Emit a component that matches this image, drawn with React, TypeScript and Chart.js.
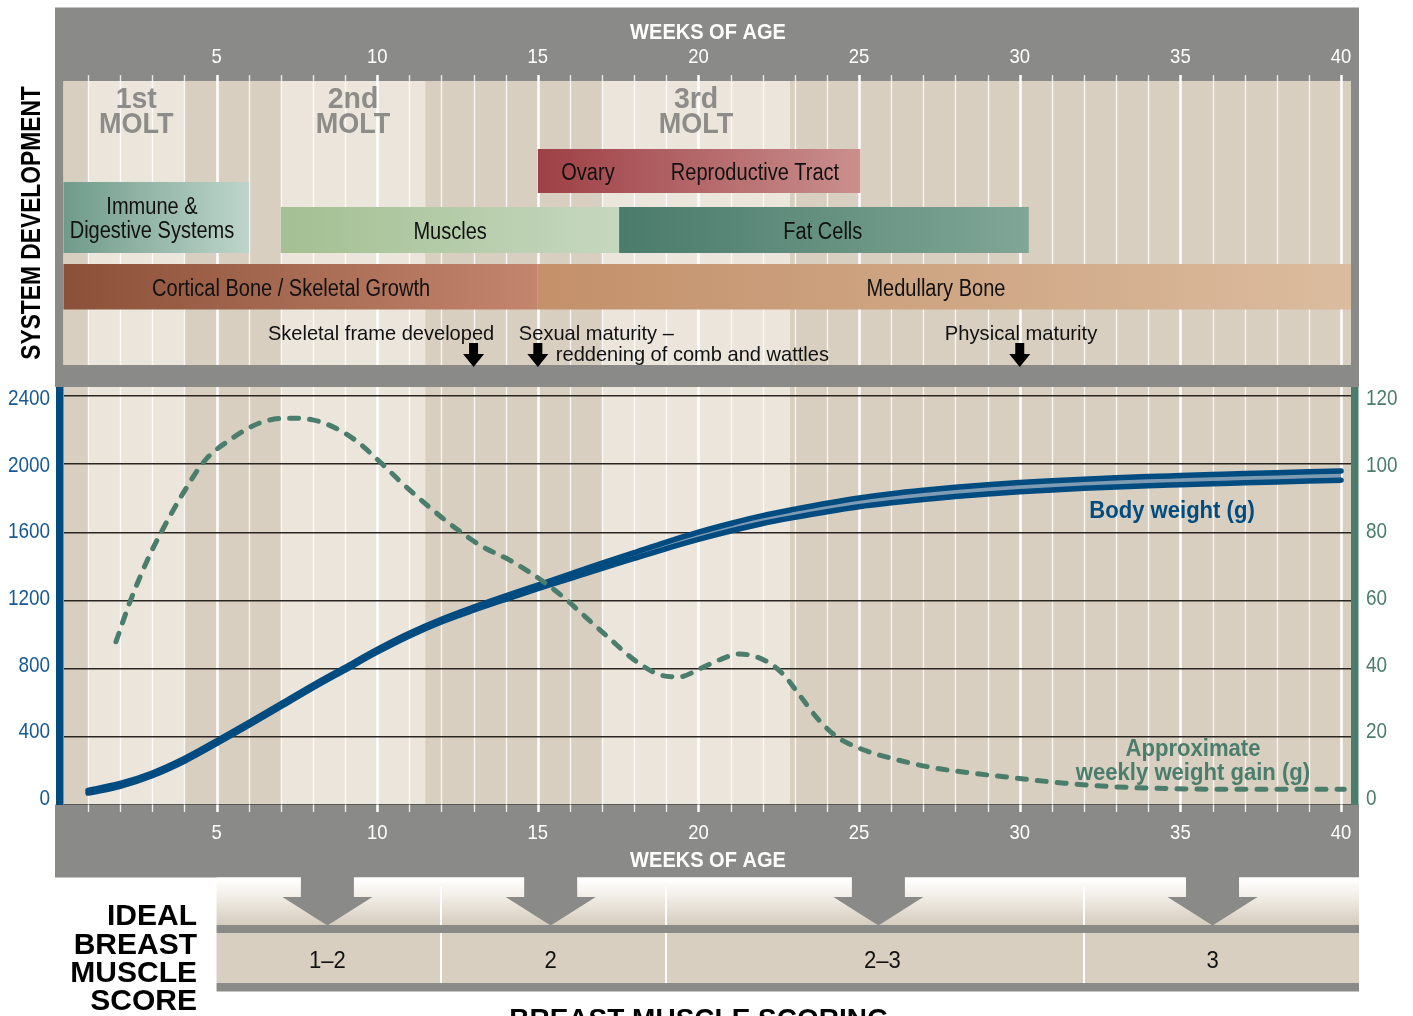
import React, { useEffect, useRef } from 'react';
import { Chart, registerables } from 'chart.js';

Chart.register(...registerables);

// ---------------- data ----------------
const WEEKS = [1, 2, 3, 4, 5, 6, 7, 8, 9, 10, 11, 12, 13, 14, 15, 16, 17, 18, 19, 20,
  21, 22, 23, 24, 25, 26, 27, 28, 29, 30, 31, 32, 33, 34, 35, 36, 37, 38, 39, 40];
const BODY_WEIGHT_HIGH = [86, 126, 188, 273, 376, 483, 593, 703, 808, 913, 1008, 1090, 1161, 1227, 1291, 1355, 1419, 1481, 1543, 1601,
  1652, 1698, 1736, 1771, 1802, 1827, 1847, 1864, 1879, 1892, 1903, 1912, 1920, 1927, 1933, 1939, 1945, 1950, 1955, 1960];
const BODY_WEIGHT_LOW = [70, 110, 172, 257, 360, 467, 577, 687, 792, 897, 992, 1074, 1143, 1207, 1269, 1329, 1389, 1447, 1505, 1559,
  1608, 1652, 1688, 1721, 1750, 1773, 1793, 1810, 1825, 1838, 1849, 1858, 1866, 1873, 1879, 1885, 1891, 1896, 1901, 1906];
const GAIN_WEEKS = [1.87, 2.29, 2.85, 3.26, 3.96, 4.65, 5.49, 6.32, 7.16, 7.99, 8.83, 9.38, 10.08, 10.78, 11.61, 12.44,
  13.28, 14.11, 14.95, 15.78, 16.48, 17.17, 18.01, 18.84, 19.4, 20.07, 20.63, 21.27, 22.05, 22.61, 23.18, 23.75, 24.31,
  25.02, 26.01, 27.15, 28.56, 29.98, 31.4, 32.81, 34.23, 37.06, 40.1];
const WEEKLY_GAIN = [47.9, 59.2, 71.9, 79.7, 91.5, 101.2, 107.6, 112.0, 113.5, 113.0, 110.0, 106.6, 100.7, 94.4, 87.5, 81.2,
  75.8, 71.9, 67.0, 61.1, 55.2, 49.4, 42.5, 38.1, 37.6, 40.1, 42.5, 44.3, 42.5, 38.6, 31.8, 24.9, 20.0,
  16.6, 13.7, 11.2, 9.3, 7.8, 6.4, 5.4, 4.9, 4.6, 4.6];
const WEEK_TICKS = [5, 10, 15, 20, 25, 30, 35, 40];
const BODY_WEIGHT_RANGE = [0, 2400];
const GAIN_RANGE = [0, 120];

const MOLT_LABELS = ['1st', '2nd', '3rd'];
const MOLT_START = [1, 7, 17];
const MOLT_END = [4, 11.5, 22.85];

const SYSTEM_LABELS = [['Ovary', 'Reproductive Tract'], ['Immune &', 'Digestive Systems'], ['Muscles'], ['Fat Cells'],
  ['Cortical Bone / Skeletal Growth'], ['Medullary Bone']];
const SYSTEM_START = [15, 0, 7, 17.53, 0, 15];
const SYSTEM_END = [25.04, 6.01, 17.53, 30.28, 15, 41];

const MILESTONE_LABELS = [['Skeletal frame developed'], ['Sexual maturity –', 'reddening of comb and wattles'], ['Physical maturity']];
const MILESTONE_WEEKS = [13, 15, 30];

const SCORE_LABELS = ['1–2', '2', '2–3', '3'];
const SCORE_BOUNDS = [5, 12, 19, 32, 41];
const SCORE_ARROW_WEEKS = [8.45, 15.4, 25.6, 36];

// ---------------- styles ----------------
const X_MIN = 0.2365;
const X_MAX = 40.31;
const GRAY = '#8a8a88';
const LIGHT = '#ece5db';
const DARK = '#d8cfc0';
const BLUE = '#004b80';
const BLUE_TEXT = '#175a90';
const GREEN = '#4b7d6c';
const FAM = '"Liberation Sans", Arial, sans-serif';
const FRAME_L = 55;
const FRAME_R = 1359;

const BAR_STYLE = [
  { y0: 149, y1: 193, c0: '#9e4046', c1: '#ca8f8d', lx: [16.56, 21.76], stacked: false },
  { y0: 182, y1: 253, c0: '#6f9b8b', c1: '#bed5cb', lx: [2.99], stacked: true },
  { y0: 207, y1: 253, c0: '#a4bf92', c1: '#c5d8bf', lx: [12.27], stacked: false },
  { y0: 207, y1: 253, c0: '#4a7b6b', c1: '#80a696', lx: [23.87], stacked: false },
  { y0: 264, y1: 309.5, c0: '#8b5038', c1: '#c4856e', lx: [7.32], stacked: false },
  { y0: 264, y1: 309.5, c0: '#c3906a', c1: '#dbbc9e', lx: [27.39], stacked: false },
];

function txt(ctx: CanvasRenderingContext2D, s: string, x: number, y: number, size: number,
  opt: { weight?: string; color?: string; align?: CanvasTextAlign; squeeze?: number; rotate?: number } = {}) {
  ctx.save();
  ctx.font = `${opt.weight || 'normal'} ${size}px ${FAM}`;
  ctx.fillStyle = opt.color || '#111';
  ctx.textAlign = opt.align || 'center';
  ctx.textBaseline = 'middle';
  ctx.translate(x, y);
  if (opt.rotate) ctx.rotate(opt.rotate);
  ctx.scale(opt.squeeze || 1, 1);
  ctx.fillText(s, 0, 0);
  ctx.restore();
}

function downArrow(ctx: CanvasRenderingContext2D, cx: number, yTop: number, yHead: number, yTip: number,
  shaftW: number, headW: number, color: string) {
  ctx.save();
  ctx.fillStyle = color;
  ctx.beginPath();
  ctx.moveTo(cx - shaftW / 2, yTop);
  ctx.lineTo(cx + shaftW / 2, yTop);
  ctx.lineTo(cx + shaftW / 2, yHead);
  ctx.lineTo(cx + headW / 2, yHead);
  ctx.lineTo(cx, yTip);
  ctx.lineTo(cx - headW / 2, yHead);
  ctx.lineTo(cx - shaftW / 2, yHead);
  ctx.closePath();
  ctx.fill();
  ctx.restore();
}

const decorPlugin = {
  id: 'decor',
  beforeDraw(chart: any) {
    const { ctx, chartArea: ca } = chart;
    const xs = chart.scales.x;
    const X = (w: number) => xs.getPixelForValue(Math.max(X_MIN, Math.min(X_MAX, w)));
    ctx.save();
    ctx.fillStyle = GRAY;
    ctx.fillRect(FRAME_L, 7.5, FRAME_R - FRAME_L, 81 - 7.5);
    ctx.fillRect(FRAME_L, 81, ca.left - FRAME_L, 365 - 81);
    ctx.fillRect(ca.right, 81, FRAME_R - ca.right, 365 - 81);
    ctx.fillRect(FRAME_L, 365, FRAME_R - FRAME_L, 387 - 365);

    const sections = [[81, 365], [387, ca.bottom]];
    for (const [y0, y1] of sections) {
      ctx.fillStyle = DARK;
      ctx.fillRect(ca.left, y0, ca.right - ca.left, y1 - y0);
      ctx.fillStyle = LIGHT;
      for (let i = 0; i < MOLT_START.length; i++) {
        const a = X(MOLT_START[i]);
        const b = X(MOLT_END[i]);
        ctx.fillRect(a, y0, b - a, y1 - y0);
      }
    }
    for (const w of WEEKS) {
      const x = Math.round(X(w)) + 0.5;
      const major = w % 5 === 0;
      ctx.strokeStyle = major ? 'rgba(255,255,255,1)' : 'rgba(255,255,255,0.8)';
      ctx.lineWidth = major ? 2.5 : 1.4;
      ctx.beginPath();
      ctx.moveTo(x, 75);
      ctx.lineTo(x, 365);
      ctx.moveTo(x, 387);
      ctx.lineTo(x, ca.bottom);
      ctx.stroke();
    }
    txt(ctx, 'WEEKS OF AGE', 708, 33, 22.5, { weight: 'bold', color: '#fff', squeeze: 0.89 });
    for (const w of WEEK_TICKS) txt(ctx, String(w), X(w), 57.5, 21, { color: '#fff', squeeze: 0.88 });

    for (let i = 0; i < MOLT_LABELS.length; i++) {
      const cx = (X(MOLT_START[i]) + X(MOLT_END[i])) / 2;
      txt(ctx, MOLT_LABELS[i], cx, 99.5, 30, { weight: 'bold', color: '#8e8c89', squeeze: 0.95 });
      txt(ctx, 'MOLT', cx, 124.5, 30, { weight: 'bold', color: '#8e8c89', squeeze: 0.9 });
    }

    for (let i = 0; i < SYSTEM_LABELS.length; i++) {
      const st = BAR_STYLE[i];
      const a = i === 1 || i === 4 ? ca.left : X(SYSTEM_START[i]);
      const b = X(SYSTEM_END[i]);
      const g = ctx.createLinearGradient(a, 0, b, 0);
      g.addColorStop(0, st.c0);
      g.addColorStop(1, st.c1);
      ctx.fillStyle = g;
      ctx.fillRect(a, st.y0, b - a, st.y1 - st.y0);
      const lines = SYSTEM_LABELS[i];
      const cy = (st.y0 + st.y1) / 2;
      if (st.stacked) {
        txt(ctx, lines[0], X(st.lx[0]), cy - 10, 23, { squeeze: 0.87 });
        txt(ctx, lines[1], X(st.lx[0]), cy + 14, 23, { squeeze: 0.87 });
      } else {
        lines.forEach((s, k) => txt(ctx, s, X(st.lx[k]), cy + 2.5, 23, { squeeze: 0.87 }));
      }
    }

    txt(ctx, MILESTONE_LABELS[0][0], X(10.12), 334, 21, { squeeze: 0.955 });
    txt(ctx, MILESTONE_LABELS[1][0], X(14.41), 334, 21, { squeeze: 0.955, align: 'left' });
    txt(ctx, MILESTONE_LABELS[1][1], X(15.56), 355, 21, { squeeze: 0.955, align: 'left' });
    txt(ctx, MILESTONE_LABELS[2][0], X(30.04), 334, 21, { squeeze: 0.96 });
    for (const w of MILESTONE_WEEKS) downArrow(ctx, X(w), 343, 354, 367, 9, 21, '#000');

    txt(ctx, 'SYSTEM DEVELOPMENT', 32.5, 223, 28, { weight: 'bold', color: '#000', squeeze: 0.814, rotate: -Math.PI / 2 });
    ctx.restore();
  },
  afterDraw(chart: any) {
    const { ctx, chartArea: ca } = chart;
    const xs = chart.scales.x;
    const ys = chart.scales.y;
    const ys2 = chart.scales.y2;
    const X = (w: number) => xs.getPixelForValue(w);
    ctx.save();
    ctx.fillStyle = GRAY;
    ctx.fillRect(FRAME_L, 804.5, FRAME_R - FRAME_L, 877.5 - 804.5);
    for (const w of WEEKS) {
      const x = Math.round(X(w)) + 0.5;
      const major = w % 5 === 0;
      ctx.strokeStyle = major ? '#fff' : 'rgba(255,255,255,0.85)';
      ctx.lineWidth = major ? 2.5 : 1.4;
      ctx.beginPath();
      ctx.moveTo(x, 804.5);
      ctx.lineTo(x, 812);
      ctx.stroke();
    }
    for (const w of WEEK_TICKS) txt(ctx, String(w), X(w), 833, 21, { color: '#fff', squeeze: 0.88 });
    txt(ctx, 'WEEKS OF AGE', 708, 860.5, 22.5, { weight: 'bold', color: '#fff', squeeze: 0.89 });

    ctx.fillStyle = BLUE;
    ctx.fillRect(56, 387, ca.left - 56, 805 - 387);
    ctx.fillStyle = GREEN;
    ctx.fillRect(ca.right, 387, 7.5, 805 - 387);

    for (const t of ys.ticks) {
      const y = ys.getPixelForValue(t.value) + 3 - 9 * (1 - t.value / BODY_WEIGHT_RANGE[1]);
      txt(ctx, String(t.value), ca.left - 13.5, y, 22, { color: BLUE_TEXT, align: 'right', squeeze: 0.86 });
    }
    for (const t of ys2.ticks) {
      const y = ys2.getPixelForValue(t.value) + 3 - 9 * (1 - t.value / GAIN_RANGE[1]);
      txt(ctx, String(t.value), ca.right + 15, y, 22, { color: GREEN, align: 'left', squeeze: 0.86 });
    }

    txt(ctx, 'Body weight (g)', 1172, 511.5, 23, { weight: 'bold', color: BLUE, squeeze: 0.96 });
    txt(ctx, 'Approximate', 1193, 750, 23, { weight: 'bold', color: GREEN, squeeze: 0.96 });
    txt(ctx, 'weekly weight gain (g)', 1193, 774, 23, { weight: 'bold', color: GREEN, squeeze: 0.96 });

    const sx0 = X(SCORE_BOUNDS[0]);
    const g = ctx.createLinearGradient(0, 879, 0, 925);
    g.addColorStop(0, '#ffffff');
    g.addColorStop(0.25, '#f7f4ef');
    g.addColorStop(1, '#d6ccbe');
    ctx.fillStyle = g;
    ctx.fillRect(sx0, 877.5, FRAME_R - sx0, 925 - 877.5);
    ctx.fillStyle = '#d8cfc0';
    ctx.fillRect(sx0, 933, FRAME_R - sx0, 983 - 933);
    ctx.strokeStyle = '#fff';
    ctx.lineWidth = 2;
    for (let i = 1; i < SCORE_BOUNDS.length - 1; i++) {
      const x = Math.round(X(SCORE_BOUNDS[i]));
      ctx.beginPath();
      ctx.moveTo(x, 887);
      ctx.lineTo(x, 983);
      ctx.stroke();
    }
    ctx.fillStyle = GRAY;
    ctx.fillRect(sx0, 925, FRAME_R - sx0, 8);
    ctx.fillRect(sx0, 983, FRAME_R - sx0, 8.5);
    for (let i = 0; i < SCORE_LABELS.length; i++) {
      const cx = X(SCORE_ARROW_WEEKS[i]);
      downArrow(ctx, cx, 876, 897, 925.5, 53, 90, GRAY);
      txt(ctx, SCORE_LABELS[i], cx + (i === 2 ? 4 : 0), 961.5, 24, { squeeze: 0.92 });
    }
    const lines = ['IDEAL', 'BREAST', 'MUSCLE', 'SCORE'];
    lines.forEach((s, k) => txt(ctx, s, 197, 917 + k * 28.4, 30, { weight: 'bold', color: '#000', align: 'right' }));
    ctx.save();
    ctx.font = `bold 28px ${FAM}`;
    ctx.fillStyle = '#000';
    ctx.textAlign = 'center';
    ctx.textBaseline = 'alphabetic';
    ctx.fillText('BREAST MUSCLE SCORING', 699, 1028);
    ctx.restore();
    ctx.restore();
  },
};

export default function App() {
  const ref = useRef<HTMLCanvasElement>(null);
  useEffect(() => {
    const canvas = ref.current!;
    const chart = new Chart(canvas, {
      type: 'line',
      data: {
        datasets: [
          {
            label: 'Approximate weekly weight gain (g)',
            data: GAIN_WEEKS.map((w, i) => ({ x: w, y: WEEKLY_GAIN[i] })),
            yAxisID: 'y2',
            borderColor: GREEN,
            borderWidth: 5,
            borderDash: [9, 11],
            borderCapStyle: 'round',
            pointRadius: 0,
            cubicInterpolationMode: 'monotone',
            fill: false,
          },
          {
            label: 'Body weight low',
            data: WEEKS.map((w, i) => ({ x: w, y: BODY_WEIGHT_LOW[i] })),
            yAxisID: 'y',
            borderColor: BLUE,
            borderWidth: 5.5,
            borderCapStyle: 'round',
            pointRadius: 0,
            cubicInterpolationMode: 'monotone',
            fill: false,
          },
          {
            label: 'Body weight high',
            data: WEEKS.map((w, i) => ({ x: w, y: BODY_WEIGHT_HIGH[i] })),
            yAxisID: 'y',
            borderColor: BLUE,
            borderWidth: 5.5,
            borderCapStyle: 'round',
            pointRadius: 0,
            cubicInterpolationMode: 'monotone',
            fill: '-1',
            backgroundColor: '#7e9bb3',
          },
        ],
      },
      options: {
        responsive: false,
        animation: false,
        events: [],
        layout: { padding: { top: 396, bottom: 211, left: 0, right: 0 } },
        plugins: { legend: { display: false }, tooltip: { enabled: false } },
        scales: {
          x: { type: 'linear', min: X_MIN, max: X_MAX, display: false },
          y: {
            position: 'left',
            min: BODY_WEIGHT_RANGE[0],
            max: BODY_WEIGHT_RANGE[1],
            afterFit: (s: any) => { s.width = 63.5; },
            ticks: { stepSize: 400, display: false },
            grid: { color: '#2a2622', lineWidth: 1.5, drawTicks: false },
            border: { display: false },
          },
          y2: {
            position: 'right',
            min: GAIN_RANGE[0],
            max: GAIN_RANGE[1],
            afterFit: (s: any) => { s.width = 62; },
            ticks: { stepSize: 20, display: false },
            grid: { display: false, drawTicks: false },
            border: { display: false },
          },
        },
      } as any,
      plugins: [decorPlugin],
    });
    return () => chart.destroy();
  }, []);
  return (
    <div style={{ position: 'absolute', left: 0, top: 0, width: 1413, height: 1016, background: '#fff', overflow: 'hidden' }}>
      <canvas ref={ref} width={1413} height={1016} style={{ display: 'block', width: 1413, height: 1016 }} />
    </div>
  );
}
